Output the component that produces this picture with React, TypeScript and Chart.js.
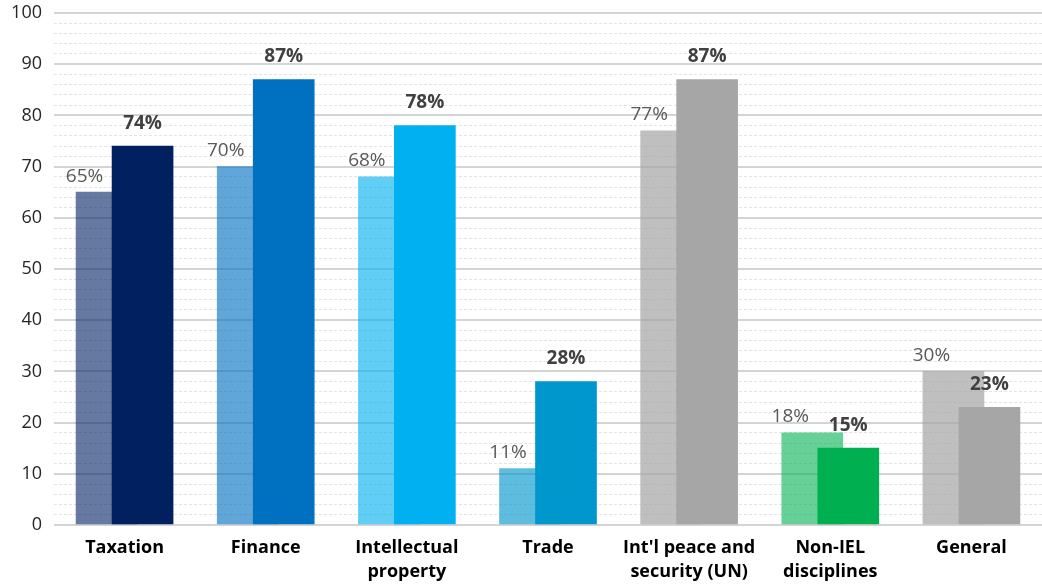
import React, { useEffect, useRef } from "react";
import { Chart, registerables } from "chart.js";

Chart.register(...registerables);

const categories: string[][] = [
  ["Taxation"],
  ["Finance"],
  ["Intellectual", "property"],
  ["Trade"],
  ["Int'l peace and", "security (UN)"],
  ["Non-IEL", "disciplines"],
  ["General"],
];
const firstValues = [65, 70, 68, 11, 77, 18, 30];
const secondValues = [74, 87, 78, 28, 87, 15, 23];
const firstColors = [
  "rgba(0,32,96,0.6)",
  "rgba(0,112,192,0.62)",
  "rgba(0,176,240,0.62)",
  "rgba(0,151,204,0.63)",
  "rgba(166,166,166,0.72)",
  "rgba(0,176,80,0.6)",
  "rgba(166,166,166,0.72)",
];
const secondColors = ["#002060", "#0070c0", "#00b0f0", "#0097cc", "#a6a6a6", "#00b050", "#a6a6a6"];
const yTicks = [0, 10, 20, 30, 40, 50, 60, 70, 80, 90, 100];

const FONT = "'Open Sans', 'DejaVu Sans', sans-serif";
const OFFSET = 0.1275;

const labelPlugin = {
  id: "valueLabels",
  afterDatasetsDraw(chart: any) {
    const ctx = chart.ctx;
    ctx.save();
    ctx.textAlign = "center";
    ctx.textBaseline = "middle";
    chart.data.datasets.forEach((ds: any, di: number) => {
      const meta = chart.getDatasetMeta(di);
      meta.data.forEach((el: any, i: number) => {
        const v = ds.data[i].y;
        if (di === 0) {
          ctx.font = `400 19px ${FONT}`;
          ctx.fillStyle = "#595959";
          ctx.fillText(`${v}%`, el.x - 22, el.y - 16);
        } else {
          ctx.font = `700 19px ${FONT}`;
          ctx.fillStyle = "#404040";
          ctx.fillText(`${v}%`, el.x, el.y - 23);
        }
      });
    });
    ctx.restore();
  },
};

export default function App() {
  const ref = useRef<HTMLCanvasElement>(null);
  useEffect(() => {
    if (!ref.current) return;
    const chart = new Chart(ref.current, {
      type: "bar",
      data: {
        datasets: [
          {
            label: "A",
            data: firstValues.map((y, i) => ({ x: i - OFFSET, y })),
            backgroundColor: firstColors,
            barThickness: 61,
            grouped: false,
            order: 2,
          },
          {
            label: "B",
            data: secondValues.map((y, i) => ({ x: i + OFFSET, y })),
            backgroundColor: secondColors,
            barThickness: 61,
            grouped: false,
            order: 1,
          },
        ] as any,
      },
      options: {
        animation: false,
        responsive: false,
        maintainAspectRatio: false,
        layout: { padding: { top: 13, right: 0, left: 0, bottom: 0 } },
        plugins: { legend: { display: false }, tooltip: { enabled: false } },
        scales: {
          x: {
            type: "linear",
            min: -0.5,
            max: 6.5,
            offset: false,
            grid: { display: false, drawTicks: false },
            border: { display: false },
            afterBuildTicks: (axis: any) => {
              axis.ticks = categories.map((_, i) => ({ value: i }));
            },
            afterFit: (axis: any) => {
              axis.height = 62;
              axis.paddingLeft = 0;
              axis.paddingRight = 0;
            },
            ticks: {
              autoSkip: false,
              maxRotation: 0,
              padding: 10,
              color: "#000000",
              font: { family: FONT, size: 18, weight: "bold", lineHeight: 1.38 },
              callback: (v: any) => categories[Math.round(Number(v))] ?? "",
            },
          },
          y: {
            min: 0,
            max: 100,
            afterBuildTicks: (axis: any) => {
              const t: any[] = [];
              for (let v = 0; v <= 100; v += 2) t.push({ value: v });
              axis.ticks = t;
            },
            afterFit: (axis: any) => {
              axis.width = 54;
              axis.paddingTop = 0;
              axis.paddingBottom = 0;
            },
            grid: {
              drawTicks: false,
              color: (c: any) => (c.tick && c.tick.value % 10 === 0 ? "#d4d4d4" : "#e4e4e4"),
              lineWidth: (c: any) => (c.tick && c.tick.value % 10 === 0 ? 2 : 1),
            },
            border: {
              display: false,
              dash: (c: any) => (c.tick && c.tick.value % 10 === 0 ? [] : [3, 2]),
            } as any,
            ticks: {
              autoSkip: false,
              padding: 12,
              color: "#262626",
              font: { family: FONT, size: 18 },
              callback: (v: any) => (yTicks.includes(Number(v)) ? String(v) : ""),
            },
          },
        },
      } as any,
      plugins: [labelPlugin],
    });
    return () => chart.destroy();
  }, []);
  return (
    <div style={{ position: "absolute", left: 0, top: 0, width: 1042, height: 587, background: "#fff" }}>
      <canvas ref={ref} width={1042} height={587} style={{ width: 1042, height: 587 }} />
    </div>
  );
}
